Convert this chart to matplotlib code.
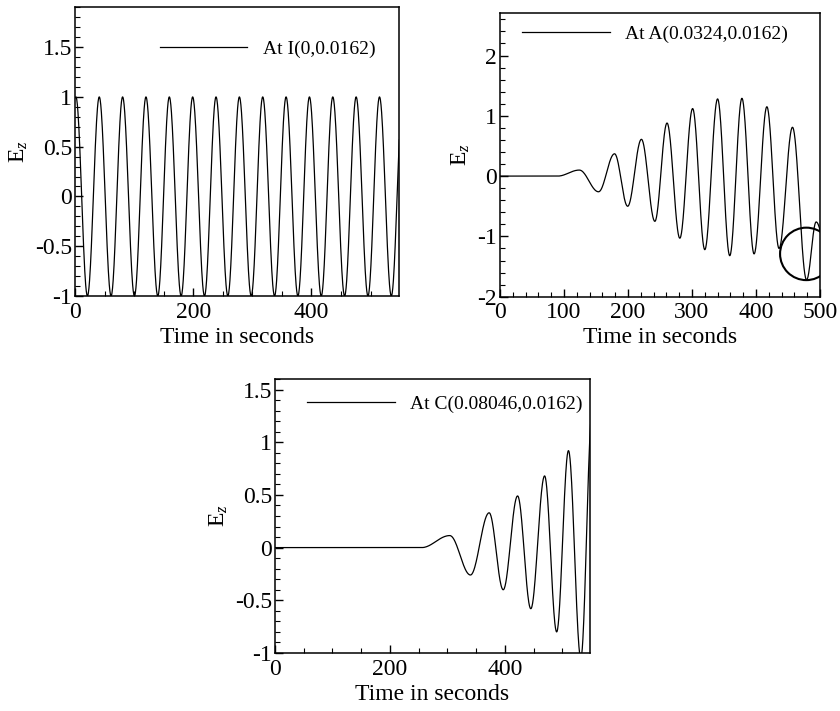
import numpy as np
import matplotlib
matplotlib.use("Agg")
import matplotlib.pyplot as plt
from matplotlib.ticker import MultipleLocator, FuncFormatter
from matplotlib.patches import Ellipse

plt.rcParams['font.family'] = ['Liberation Serif', 'DejaVu Serif']
plt.rcParams['mathtext.fontset'] = 'custom'
plt.rcParams['mathtext.rm'] = 'Liberation Serif'
plt.rcParams['mathtext.it'] = 'Liberation Serif:italic'
plt.rcParams['axes.unicode_minus'] = False

# extrema (time, value)
i_times = [0, 1.5, 21, 41, 61, 80.5, 100.5, 120, 140, 159.5, 179.5, 199, 219, 238.5, 258.5,
           278, 298, 317.5, 337.5, 357, 377, 396.5, 416.5, 436, 456, 475.5, 495.5, 515, 535, 554.5]
i_vals = [0.99, 1] + [-1, 1] * 14

a_times = [0, 90, 124, 154, 179, 199.5, 221, 242, 261, 281, 301, 320, 340, 359, 378, 397,
           417, 436, 457, 479, 494, 510]
a_vals = [0, 0, 0.1, -0.26, 0.37, -0.5, 0.61, -0.75, 0.88, -1.03, 1.12, -1.22, 1.28, -1.32,
          1.29, -1.29, 1.15, -1.2, 0.81, -1.72, -0.76, -1.2]

c_times = [0, 255, 304, 340, 372.5, 397, 422, 445, 469, 490, 510.5, 532, 552]
c_vals = [0, 0, 0.114, -0.26, 0.33, -0.40, 0.49, -0.58, 0.68, -0.80, 0.92, -1.05, 1.3]

labels = ['At I(0,0.0162)', 'At A(0.0324,0.0162)', 'At C(0.08046,0.0162)']


def smooth_trace(times, vals, n=40):
    # join consecutive extrema with half-cosine arcs
    xs, ys = [times[0]], [vals[0]]
    for k in range(len(times) - 1):
        s = np.linspace(0, 1, n)[1:]
        xs.extend(times[k] + (times[k + 1] - times[k]) * s)
        ys.extend(vals[k] + (vals[k + 1] - vals[k]) * (1 - np.cos(np.pi * s)) / 2)
    return np.array(xs), np.array(ys)


fmt = FuncFormatter(lambda v, p: '%g' % round(v, 6))

fig = plt.figure(figsize=(8.4, 7.11), dpi=100)
ax1 = fig.add_axes([0.0893, 0.5837, 0.3857, 0.406])
ax2 = fig.add_axes([0.5952, 0.5827, 0.381, 0.3986])
ax3 = fig.add_axes([0.3274, 0.0816, 0.375, 0.3854])

setup = [
    (ax1, i_times, i_vals, labels[0], (0, 548), (-1, 1.9), 200, 50, 0.5, 0.1, (0.262, 0.855)),
    (ax2, a_times, a_vals, labels[1], (0, 500), (-2, 2.7), 100, 20, 1, 0.2, (0.069, 0.927)),
    (ax3, c_times, c_vals, labels[2], (0, 548), (-1, 1.6), 200, 50, 0.5, 0.1, (0.102, 0.909)),
]

for ax, t, v, lab, xl, yl, xmaj, xmin, ymaj, ymin, lpos in setup:
    x, y = smooth_trace(t, v)
    ax.plot(x, y, color='black', lw=0.9, label=lab)
    ax.set_xlim(*xl)
    ax.set_ylim(*yl)
    ax.xaxis.set_major_locator(MultipleLocator(xmaj))
    ax.xaxis.set_minor_locator(MultipleLocator(xmin))
    ax.yaxis.set_major_locator(MultipleLocator(ymaj))
    ax.yaxis.set_minor_locator(MultipleLocator(ymin))
    ax.xaxis.set_major_formatter(fmt)
    ax.yaxis.set_major_formatter(fmt)
    ax.tick_params(which='both', direction='in', top=False, right=False, labelsize=17)
    ax.tick_params(axis='x', pad=4)
    ax.tick_params(axis='y', pad=2)
    ax.tick_params(which='major', length=6, width=1)
    ax.tick_params(which='minor', length=3.5, width=0.8)
    for sp in ax.spines.values():
        sp.set_linewidth(1.1)
    ax.set_xlabel('Time in seconds', fontsize=17, labelpad=3)
    ax.set_ylabel(r'E$_{\mathit{z}}$', fontsize=17, labelpad=4)
    ax.legend(loc='center left', bbox_to_anchor=lpos, frameon=False, fontsize=14,
              handlelength=4.5, handletextpad=0.8, borderpad=0, borderaxespad=0)

# highlighted region on the A trace
ax2.add_patch(Ellipse((478.6, -1.29), 82, 0.87, fill=False, ec='black', lw=1.5))

fig.savefig('out.png', dpi=100)
